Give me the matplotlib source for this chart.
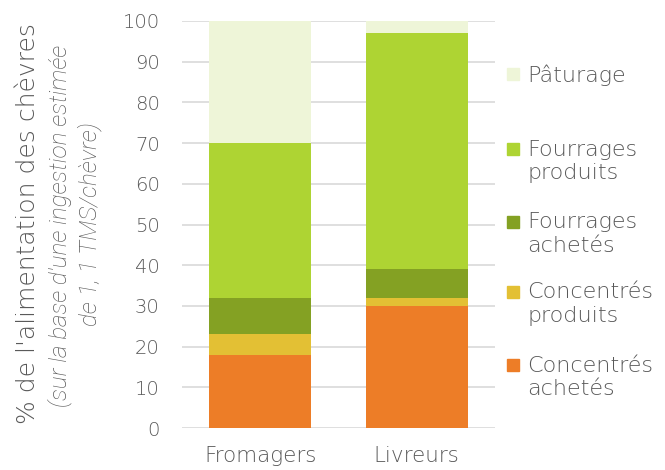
import matplotlib
matplotlib.use("Agg")
import matplotlib.pyplot as plt
from matplotlib.patches import Rectangle

categories = ["Fromagers", "Livreurs"]
series_names = ["Concentrés\nachetés", "Concentrés\nproduits", "Fourrages\nachetés",
                "Fourrages\nproduits", "Pâturage"]
concentres_achetes = [18, 30]
concentres_produits = [5, 2]
fourrages_achetes = [9, 7]
fourrages_produits = [38, 58]
paturage = [30, 3]
series_values = [concentres_achetes, concentres_produits, fourrages_achetes,
                 fourrages_produits, paturage]
colors = ["#ED7D27", "#E3C034", "#84A123", "#AED433", "#EEF5D8"]
yticks = list(range(0, 101, 10))

plt.rcParams['font.family'] = ['DejaVu Sans']
txt = "#595959"

fig = plt.figure(figsize=(6.65, 4.7), dpi=100)
ax = fig.add_axes([182/665, 42/470, (495-182)/665, (428-21)/470])

x = list(range(len(categories)))
bottom = [0]*len(categories)
for vals, col in zip(series_values, colors):
    ax.bar(x, vals, width=0.65, bottom=bottom, color=col, zorder=3)
    bottom = [b+v for b, v in zip(bottom, vals)]

ax.set_xlim(-0.5, 1.5)
ax.set_ylim(0, 100)
ax.set_yticks(yticks)
ax.set_yticklabels([str(v) for v in yticks], fontweight='light')
ax.set_xticks(x)
ax.set_xticklabels(categories, fontweight='light')
ax.tick_params(axis='both', length=0, colors=txt)
ax.tick_params(axis='y', pad=16, labelsize=14)
ax.tick_params(axis='x', pad=13, labelsize=15.5)
ax.grid(axis='y', color="#D9D9D9", linewidth=1.2, zorder=0)
for s in ax.spines.values():
    s.set_visible(False)

# Y label (three lines, mixed style)
fig.text(28/665, 1-224/470, "% de l'alimentation des chèvres", rotation=90,
         ha='center', va='center', fontsize=18, color=txt, fontweight='light')
fig.text(60/665, 1-226/470, "(sur la base d'une ingestion estimée", rotation=90,
         ha='center', va='center', fontsize=17.5, color=txt, style='italic',
         family=['Roboto', 'DejaVu Sans'], fontweight='light')
fig.text(90/665, 1-224/470, "de 1, 1 TMS/chèvre)", rotation=90,
         ha='center', va='center', fontsize=17.5, color=txt, style='italic',
         family=['Roboto', 'DejaVu Sans'], fontweight='light')

# Legend (manual, reversed order)
ys = [365, 292, 222, 149, 74]
for name, col, yc in zip(series_names, colors, ys):
    fig.patches.append(Rectangle((507/665, 1-(yc+6)/470), 12/665, 12/470,
                                 transform=fig.transFigure, color=col))
    fig.text(527/665, 1-(yc-9.5)/470, name, ha='left', va='top', fontsize=16,
             color=txt, linespacing=1.22, fontweight='light')

fig.savefig("out.png", dpi=100)
